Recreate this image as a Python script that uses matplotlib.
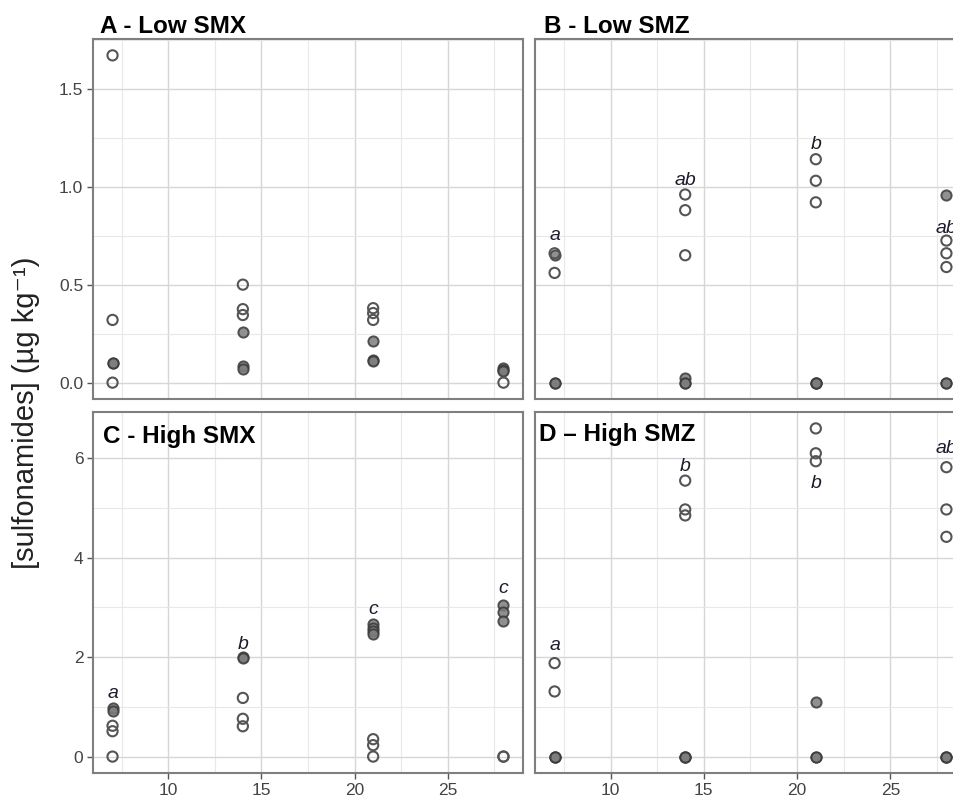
import matplotlib
matplotlib.use("Agg")
import matplotlib.pyplot as plt
from matplotlib.ticker import MultipleLocator

plt.rcParams['font.family'] = ['Liberation Sans', 'DejaVu Sans']

# Sampling days
days = [7, 14, 21, 28]

# Panel A - Low SMX (one list per day)
A_open = [[1.67, 0.32, 0.0], [0.50, 0.375, 0.345], [0.38, 0.355, 0.32], [0.0]]
A_filled = [[0.10, 0.10], [0.26, 0.085, 0.07], [0.21, 0.115, 0.11], [0.075, 0.065, 0.06]]

# Panel B - Low SMZ
B_open = [[0.66, 0.56], [0.96, 0.88, 0.65], [1.14, 1.03, 0.92], [0.725, 0.66, 0.59]]
B_filled = [[0.65, 0.0, 0.0], [0.025, 0.0, 0.0], [0.0, 0.0, 0.0], [0.955, 0.0, 0.0]]
B_letters = ["a", "ab", "b", "ab"]
B_letter_y = [0.726, 1.011, 1.19, 0.763]

# Panel C - High SMX
C_open = [[0.62, 0.51, 0.0], [1.18, 0.76, 0.61], [0.35, 0.23, 0.0], [0.0, 0.0]]
C_filled = [[0.97, 0.92], [2.0, 1.98], [2.67, 2.58, 2.52, 2.46], [3.05, 2.9, 2.73]]
C_letters = ["a", "b", "c", "c"]
C_letter_y = [1.17, 2.16, 2.86, 3.28]

# Panel D - High SMZ
D_open = [[1.88, 1.31], [5.55, 4.97, 4.85], [6.6, 6.1, 5.94], [5.82, 4.97, 4.42]]
D_filled = [[0.0, 0.0, 0.0], [0.0, 0.0, 0.0], [1.1, 0.0, 0.0], [0.0, 0.0, 0.0]]
D_letters = ["a", "b", "b", "ab"]
D_letter_y = [2.15, 5.75, 5.41, 6.11]

titles = ["A - Low SMX", "B - Low SMZ", "C - High SMX", "D \u2013 High SMZ"]

fig = plt.figure(figsize=(9.54, 7.96), dpi=100)
W, H = 954, 796


def make_ax(left, top, width, height):
    return fig.add_axes([left / W, 1 - (top + height) / H, width / W, height / H])


axA = make_ax(93, 39, 430, 360)
axB = make_ax(535, 39, 431, 360)
axC = make_ax(93, 412, 430, 361)
axD = make_ax(535, 412, 431, 361)

panels = [
    (axA, A_open, A_filled, None, None),
    (axB, B_open, B_filled, B_letters, B_letter_y),
    (axC, C_open, C_filled, C_letters, C_letter_y),
    (axD, D_open, D_filled, D_letters, D_letter_y),
]

for ax, opn, fil, letters, ly in panels:
    # filled points
    xs = [d for d, vals in zip(days, fil) for v in vals]
    ys = [v for vals in fil for v in vals]
    ax.scatter(xs, ys, s=54, facecolor='#7d7d7d', edgecolor='#3a3a3a',
               linewidth=1.4, alpha=0.85, zorder=3)
    # open points
    xs = [d for d, vals in zip(days, opn) for v in vals]
    ys = [v for vals in opn for v in vals]
    ax.scatter(xs, ys, s=54, facecolor='none', edgecolor='#555555',
               linewidth=1.5, zorder=4)
    if letters:
        for d, lab, y in zip(days, letters, ly):
            ax.text(d, y, lab, ha='center', va='baseline', style='italic',
                    fontsize=14, color='#1c1c2c', zorder=5)

    ax.set_xlim(5.95, 29.05)
    ax.xaxis.set_major_locator(MultipleLocator(5))
    ax.xaxis.set_minor_locator(MultipleLocator(2.5))
    ax.grid(which='major', color='#d6d6d6', linewidth=1.0)
    ax.grid(which='minor', color='#e8e8e8', linewidth=0.8)
    ax.set_axisbelow(True)
    for sp in ax.spines.values():
        sp.set_color('#7f7f7f')
        sp.set_linewidth(1.5)
    ax.tick_params(which='minor', length=0)
    ax.tick_params(which='major', length=4, width=1, color='#555555',
                   labelsize=12.5, labelcolor='#444444', pad=3)

for ax in (axA, axB):
    ax.set_ylim(-0.0835, 1.7535)
    ax.yaxis.set_major_locator(MultipleLocator(0.5))
    ax.yaxis.set_minor_locator(MultipleLocator(0.25))
    ax.tick_params(labelbottom=False, bottom=False)
axA.set_yticks([0, 0.5, 1.0, 1.5])
axA.set_yticklabels(["0.0", "0.5", "1.0", "1.5"])

for ax in (axC, axD):
    ax.set_ylim(-0.33, 6.93)
    ax.yaxis.set_major_locator(MultipleLocator(2))
    ax.yaxis.set_minor_locator(MultipleLocator(1))

for ax in (axB, axD):
    ax.tick_params(labelleft=False, left=False)

# panel titles
axA.text(7 / 430, 1 + 6 / 360, titles[0], transform=axA.transAxes,
         fontsize=17.5, fontweight='bold', va='baseline', ha='left')
axB.text(9 / 431, 1 + 6 / 360, titles[1], transform=axB.transAxes,
         fontsize=17.5, fontweight='bold', va='baseline', ha='left')
axC.text(10 / 430, 1 - 31 / 361, titles[2], transform=axC.transAxes,
         fontsize=17.5, fontweight='bold', va='baseline', ha='left', zorder=6)
axD.text(4 / 431, 1 - 29 / 361, titles[3], transform=axD.transAxes,
         fontsize=17.5, fontweight='bold', va='baseline', ha='left', zorder=6)

fig.text(26 / W, 1 - 413 / H, "[sulfonamides] (\u00b5g kg\u207b\u00b9)",
         rotation=90, ha='center', va='center', fontsize=21, color='#222222')

fig.savefig("out.png", dpi=100)
